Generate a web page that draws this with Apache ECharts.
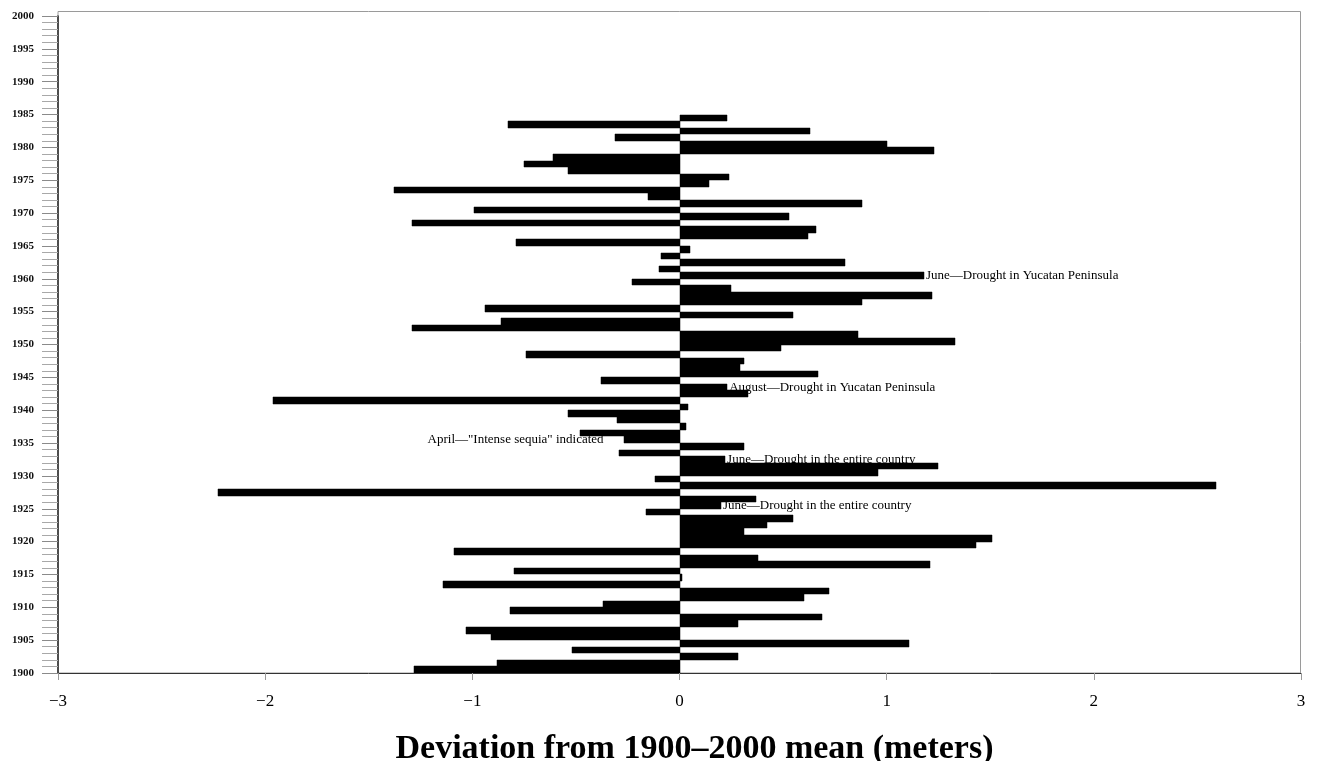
<!DOCTYPE html>
<html>
<head>
<meta charset="utf-8">
<title>Deviation from 1900–2000 mean</title>
<script src="https://cdn.jsdelivr.net/npm/echarts@6/dist/echarts.min.js"></script>
<style>
  html, body { margin: 0; padding: 0; background: #fff; }
  #chart { width: 1318px; height: 761px; }
</style>
</head>
<body>
<div id="chart"></div>
<script>
// First year of the record; one bar per year.
const startYear = 1900;

// Annual deviation from the 1900–2000 mean, in meters (1900 … 1984).
const deviation = [
  -1.28, -0.88,  0.28, -0.52,  1.11, -0.91, -1.03,  0.28,  0.69, -0.82,   // 1900–1909
  -0.37,  0.60,  0.72, -1.14,  0.01, -0.80,  1.21,  0.38, -1.09,  1.43,   // 1910–1919
   1.51,  0.31,  0.42,  0.55, -0.16,  0.20,  0.37, -2.23,  2.59, -0.12,   // 1920–1929
   0.96,  1.25,  0.22, -0.29,  0.31, -0.27, -0.48,  0.03, -0.30, -0.54,   // 1930–1939
   0.04, -1.96,  0.33,  0.23, -0.38,  0.67,  0.29,  0.31, -0.74,  0.49,   // 1940–1949
   1.33,  0.86, -1.29, -0.86,  0.55, -0.94,  0.88,  1.22,  0.25, -0.23,   // 1950–1959
   1.18, -0.10,  0.80, -0.09,  0.05, -0.79,  0.62,  0.66, -1.29,  0.53,   // 1960–1969
  -0.99,  0.88, -0.15, -1.38,  0.14,  0.24, -0.54, -0.75, -0.61,  1.23,   // 1970–1979
   1.00, -0.31,  0.63, -0.83,  0.23                                       // 1980–1984
];

// Years matching each value.
const years = deviation.map((_, i) => startYear + i);

// Historical notes written next to the bars of their year.
const noteYears = [1960, 1943, 1935, 1932, 1925];
const noteTexts = [
  'June\u2014Drought in Yucatan Peninsula',
  'August\u2014Drought in Yucatan Peninsula',
  'April\u2014"Intense sequia" indicated',
  'June\u2014Drought in the entire country',
  'June\u2014Drought in the entire country'
];

// Axis ranges and tick steps.
const xTicks = { min: -3, max: 3, step: 1 };
const yTicks = { min: 1900, max: 2000, step: 5 };
const axisTitle = 'Deviation from 1900\u20132000 mean (meters)';

const SERIF = '"Liberation Serif", "Times New Roman", serif';
const notes = {};
noteYears.forEach((y, i) => { notes[y] = noteTexts[i]; });

const chart = echarts.init(document.getElementById('chart'), null, { renderer: 'canvas' });

chart.setOption({
  backgroundColor: '#ffffff',
  animation: false,
  // Thin frame around the plotting area (open a little above the 2000 tick).
  graphic: [{
    type: 'rect',
    shape: { x: 58, y: 11.5, width: 1242.5, height: 661.5 },
    style: { fill: 'none', stroke: '#9a9a9a', lineWidth: 1 },
    silent: true,
    z: -1
  }],
  grid: {
    left: 58, right: 17, top: 16, bottom: 88,
    outerBoundsMode: 'none',
    containLabel: false,
    show: false
  },
  xAxis: {
    type: 'value',
    min: xTicks.min, max: xTicks.max, interval: xTicks.step,
    splitLine: { show: false },
    axisLine: { show: true, onZero: false, lineStyle: { color: '#333', width: 1 } },
    axisTick: { show: true, inside: false, length: 7, lineStyle: { color: '#999', width: 1 } },
    axisLabel: {
      margin: 20,
      fontFamily: SERIF,
      fontSize: 17,
      color: '#000',
      formatter: v => (v < 0 ? '\u2212' + Math.abs(v) : String(v))
    },
    name: axisTitle,
    nameLocation: 'middle',
    nameGap: 59,
    nameTextStyle: {
      fontFamily: SERIF, fontSize: 34, fontWeight: 'bold', color: '#000',
      padding: [0, 0, 0, 30]
    }
  },
  yAxis: {
    type: 'value',
    min: yTicks.min, max: yTicks.max, interval: yTicks.step,
    splitLine: { show: false },
    axisLine: { show: true, onZero: false, lineStyle: { color: '#222', width: 1.5 } },
    axisTick: { show: true, length: 16, lineStyle: { color: '#8a8a8a', width: 1 } },
    minorTick: { show: true, splitNumber: 5, length: 16, lineStyle: { color: '#a8a8a8', width: 1 } },
    axisLabel: {
      margin: 24,
      fontFamily: SERIF,
      fontSize: 11,
      fontWeight: 'bold',
      color: '#111',
      formatter: v => String(v)
    }
  },
  series: [{
    type: 'custom',
    data: years.map((y, i) => [y, deviation[i]]),
    encode: { x: 1, y: 0 },
    clip: true,
    renderItem: function (params, api) {
      const year = api.value(0);
      const v = api.value(1);
      // Each bar spans its year: from the year's tick to the next one.
      const base = api.coord([0, year]);
      const tip = api.coord([v, year + 1]);
      const x0 = Math.round(Math.min(base[0], tip[0]));
      const x1 = Math.round(Math.max(base[0], tip[0]));
      const y0 = Math.round(tip[1]);
      const y1 = Math.round(base[1]);
      const children = [{
        type: 'rect',
        shape: { x: x0, y: y0, width: Math.max(1, x1 - x0), height: y1 - y0 },
        style: { fill: '#000', stroke: '#000', lineWidth: 0.5 }
      }];
      const note = notes[year];
      if (note) {
        const midY = (base[1] + tip[1]) / 2;
        const right = v >= 0;
        children.push({
          type: 'text',
          x: right ? tip[0] + 2 : tip[0] - 20,
          y: midY,
          style: {
            text: note,
            fontFamily: SERIF,
            fontSize: 13,
            fill: '#000',
            align: right ? 'left' : 'right',
            verticalAlign: 'middle'
          },
          z2: 10
        });
      }
      return { type: 'group', children: children };
    }
  }]
});
</script>
</body>
</html>
